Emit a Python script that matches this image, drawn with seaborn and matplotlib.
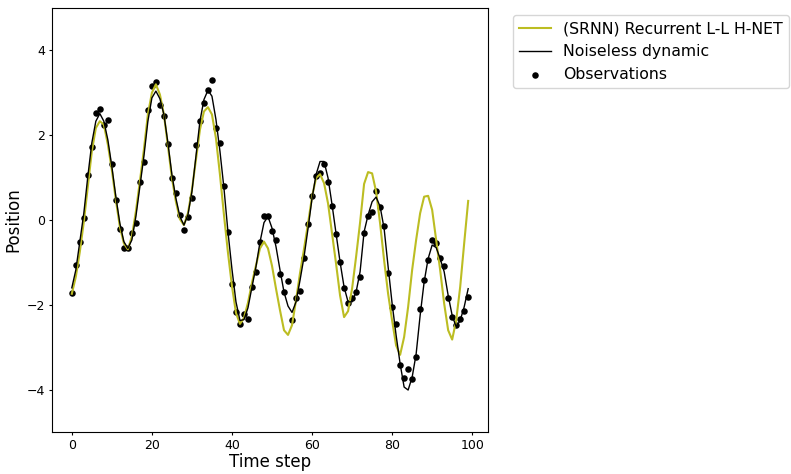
import numpy as np
import pandas as pd
import matplotlib
matplotlib.use("Agg")
import matplotlib.pyplot as plt
import seaborn as sns

# time axis
steps = list(range(100))

observations = [
    -1.73, -1.05, -0.51, 0.05, 1.07, 1.73, 2.52, 2.62, 2.23, 2.36,
    1.33, 0.47, -0.22, -0.67, -0.67, -0.31, -0.06, 0.89, 1.37, 2.59,
    3.16, 3.26, 2.72, 2.45, 1.80, 0.99, 0.64, 0.11, -0.24, 0.08,
    0.53, 1.77, 2.34, 2.76, 3.06, 3.30, 2.16, 1.82, 0.81, -0.29,
    -1.51, -2.16, -2.45, -2.21, -2.33, -1.58, -1.23, -0.53, 0.10, 0.10,
    -0.25, -0.47, -1.27, -1.70, -1.44, -2.36, -1.83, -1.68, -0.89, -0.09,
    0.57, 1.03, 1.10, 1.32, 0.89, 0.34, -0.34, -1.00, -1.60, -1.96,
    -1.84, -1.69, -1.34, -0.31, 0.09, 0.18, 0.69, 0.31, -0.13, -1.25,
    -2.05, -2.46, -3.41, -3.73, -3.52, -3.76, -3.22, -2.11, -1.41, -0.95,
    -0.47, -0.54, -0.90, -1.08, -1.85, -2.28, -2.48, -2.34, -2.15, -1.81,
]

noiseless = [
    -1.60, -1.18, -0.51, 0.16, 1.03, 1.82, 2.33, 2.51, 2.33, 1.89,
    1.26, 0.55, -0.08, -0.51, -0.67, -0.47, 0.08, 0.79, 1.50, 2.33,
    2.88, 3.04, 2.86, 2.49, 1.82, 1.07, 0.51, 0.08, -0.12, 0.12,
    0.67, 1.50, 2.33, 2.84, 3.06, 2.92, 2.37, 1.62, 0.75, -0.28,
    -1.16, -1.93, -2.37, -2.35, -2.07, -1.58, -1.10, -0.52, -0.06, 0.08,
    -0.19, -0.63, -1.18, -1.70, -2.03, -2.18, -1.93, -1.42, -0.87, -0.20,
    0.51, 1.07, 1.38, 1.38, 0.99, 0.36, -0.32, -0.99, -1.58, -1.93,
    -1.93, -1.70, -1.22, -0.28, 0.12, 0.43, 0.54, 0.32, -0.20, -1.10,
    -1.97, -2.72, -3.39, -3.94, -4.01, -3.71, -3.16, -2.25, -1.46, -0.91,
    -0.59, -0.65, -0.91, -1.22, -1.78, -2.25, -2.52, -2.37, -2.05, -1.62,
]

srnn = [
    -1.74, -1.34, -0.75, -0.04, 0.79, 1.62, 2.17, 2.33, 2.25, 1.78,
    1.18, 0.47, -0.16, -0.55, -0.69, -0.39, 0.20, 0.91, 1.66, 2.49,
    3.00, 3.20, 2.96, 2.49, 1.75, 0.99, 0.43, 0.02, -0.12, 0.16,
    0.71, 1.42, 2.13, 2.56, 2.66, 2.49, 1.93, 1.07, 0.12, -0.77,
    -1.56, -2.19, -2.45, -2.31, -1.95, -1.48, -1.07, -0.67, -0.51, -0.67,
    -1.08, -1.62, -2.13, -2.60, -2.71, -2.48, -1.89, -1.25, -0.68, -0.08,
    0.55, 0.99, 1.08, 0.87, 0.39, -0.32, -1.03, -1.78, -2.29, -2.15,
    -1.62, -0.87, -0.06, 0.85, 1.13, 1.10, 0.67, -0.08, -0.95, -1.74,
    -2.37, -2.96, -3.18, -2.76, -2.05, -1.18, -0.47, 0.16, 0.55, 0.57,
    0.24, -0.47, -1.18, -1.97, -2.60, -2.82, -2.37, -1.58, -0.55, 0.45,
]

df = pd.DataFrame({"step": steps, "obs": observations,
                   "clean": noiseless, "srnn": srnn})

fig = plt.figure(figsize=(7.91, 4.74), dpi=100)
ax = fig.add_axes([52 / 791, 1 - 432 / 474, 436 / 791, 424 / 474])

sns.lineplot(data=df, x="step", y="srnn", color="#bcbd22", linewidth=1.5,
             label="(SRNN) Recurrent L-L H-NET", ax=ax)
sns.lineplot(data=df, x="step", y="clean", color="black", linewidth=1.0,
             label="Noiseless dynamic", ax=ax)
sns.scatterplot(data=df, x="step", y="obs", color="black", s=22,
                edgecolor="black", linewidth=0, label="Observations", ax=ax)

ax.set_ylim(-5, 5)
ax.set_xlim(-4.95, 103.95)
ax.set_yticks([-4, -2, 0, 2, 4])
ax.set_xticks([0, 20, 40, 60, 80, 100])
ax.tick_params(labelsize=9, length=2.5, pad=2.5)
ax.set_xlabel("Time step", fontsize=12, labelpad=1)
ax.set_ylabel("Position", fontsize=12, labelpad=3)

ax.legend(loc="upper left", bbox_to_anchor=((513 - 52) / 436, 1 - 7 / 424),
          borderaxespad=0, fontsize=11.3)

fig.savefig("out.png", dpi=100)
